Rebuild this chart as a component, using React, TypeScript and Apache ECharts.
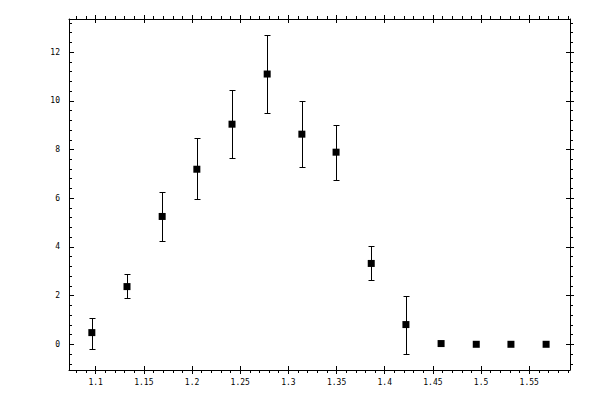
import React, { useEffect, useRef } from "react";
import * as echarts from "echarts";

// ---- data ----
const xValues = [1.096, 1.1325, 1.169, 1.205, 1.2415, 1.278, 1.314, 1.3495, 1.386, 1.422, 1.4585, 1.495, 1.531, 1.5675];
const yValues = [0.48, 2.37, 5.25, 7.19, 9.04, 11.1, 8.63, 7.89, 3.32, 0.81, 0.03, 0, 0, 0];
const errLow = [-0.18, 1.92, 4.24, 5.95, 7.64, 9.49, 7.27, 6.74, 2.66, -0.38, 0.03, 0, 0, 0];
const errHigh = [1.1, 2.87, 6.27, 8.46, 10.44, 12.7, 10.0, 9.0, 4.02, 1.99, 0.03, 0, 0, 0];

// ---- axis ranges and tick labels ----
const X_MIN = 1.0723;
const X_MAX = 1.5923;
const Y_MIN = -1.056;
const Y_MAX = 13.36;
const xMajorTicks = [1.1, 1.15, 1.2, 1.25, 1.3, 1.35, 1.4, 1.45, 1.5, 1.55];
const yMajorTicks = [0, 2, 4, 6, 8, 10, 12];

const xMinorTicks: number[] = [];
for (let k = 108; k <= 159; k++) {
  if (k % 5 !== 0) xMinorTicks.push(k / 100);
}
const yMinorTicks: number[] = [];
for (let k = -2; k <= 33; k++) {
  if (k % 5 !== 0) yMinorTicks.push(Math.round(k * 4) / 10);
}

const FONT = "DejaVu Sans Mono";

function App() {
  const ref = useRef<HTMLDivElement>(null);

  useEffect(() => {
    if (!ref.current) return;
    const chart = echarts.init(ref.current, null, { renderer: "svg" });

    const black = { color: "#000", width: 1 };
    const hiddenLine = { show: false, onZero: false };
    const shownLine = { show: true, onZero: false, lineStyle: black };

    const xAxisBase = (position: string, extra: any) => ({
      type: "value",
      position,
      min: X_MIN,
      max: X_MAX,
      splitLine: { show: false },
      axisLine: hiddenLine,
      axisLabel: { show: false },
      axisTick: { show: false },
      ...extra,
    });
    const yAxisBase = (position: string, extra: any) => ({
      type: "value",
      position,
      min: Y_MIN,
      max: Y_MAX,
      splitLine: { show: false },
      axisLine: hiddenLine,
      axisLabel: { show: false },
      axisTick: { show: false },
      ...extra,
    });

    const option: any = {
      animation: false,
      backgroundColor: "#fff",
      grid: { left: 69, right: 30, top: 19, bottom: 30, containLabel: false },
      xAxis: [
        xAxisBase("bottom", {
          axisLine: shownLine,
          axisTick: { show: true, inside: false, length: 4, customValues: xMajorTicks, lineStyle: black },
          axisLabel: {
            show: true,
            customValues: xMajorTicks,
            margin: 8,
            color: "#000",
            fontFamily: FONT,
            fontSize: 8,
            formatter: (v: number) => String(v),
          },
        }),
        xAxisBase("bottom", {
          axisTick: { show: true, inside: true, length: 4, customValues: xMajorTicks, lineStyle: black },
        }),
        xAxisBase("bottom", {
          axisTick: { show: true, inside: false, length: 3, customValues: xMinorTicks, lineStyle: black },
        }),
        xAxisBase("top", {
          axisLine: shownLine,
          axisTick: { show: true, inside: false, length: 4, customValues: xMajorTicks, lineStyle: black },
        }),
        xAxisBase("top", {
          axisTick: { show: true, inside: true, length: 4, customValues: xMajorTicks, lineStyle: black },
        }),
        xAxisBase("top", {
          axisTick: { show: true, inside: false, length: 3, customValues: xMinorTicks, lineStyle: black },
        }),
      ],
      yAxis: [
        yAxisBase("left", {
          axisLine: shownLine,
          axisTick: { show: true, inside: true, length: 5, customValues: yMajorTicks, lineStyle: black },
          axisLabel: {
            show: true,
            customValues: yMajorTicks,
            margin: 9,
            color: "#000",
            fontFamily: FONT,
            fontSize: 8,
            formatter: (v: number) => String(v),
          },
        }),
        yAxisBase("left", {
          axisTick: { show: true, inside: true, length: 3, customValues: yMinorTicks, lineStyle: black },
        }),
        yAxisBase("right", {
          axisLine: shownLine,
          axisTick: { show: true, inside: false, length: 4, customValues: yMajorTicks, lineStyle: black },
        }),
        yAxisBase("right", {
          axisTick: { show: true, inside: true, length: 4, customValues: yMajorTicks, lineStyle: black },
        }),
        yAxisBase("right", {
          axisTick: { show: true, inside: false, length: 3, customValues: yMinorTicks, lineStyle: black },
        }),
      ],
      series: [
        {
          type: "custom",
          xAxisIndex: 0,
          yAxisIndex: 0,
          data: xValues.map((x, i) => [x, errLow[i], errHigh[i]]),
          encode: { x: 0, y: [1, 2] },
          z: 2,
          renderItem: (params: any, api: any) => {
            const x = api.value(0);
            const lo = api.value(1);
            const hi = api.value(2);
            if (lo === hi) return null;
            const pLo = api.coord([x, lo]);
            const pHi = api.coord([x, hi]);
            const cx = Math.round(pLo[0]) + 0.5;
            const yLo = Math.round(pLo[1]) + 0.5;
            const yHi = Math.round(pHi[1]) + 0.5;
            const hw = 3;
            const style = { stroke: "#000", lineWidth: 1 };
            return {
              type: "group",
              children: [
                { type: "line", shape: { x1: cx, y1: yLo, x2: cx, y2: yHi }, style },
                { type: "line", shape: { x1: cx - hw, y1: yLo, x2: cx + hw, y2: yLo }, style },
                { type: "line", shape: { x1: cx - hw, y1: yHi, x2: cx + hw, y2: yHi }, style },
              ],
            };
          },
        },
        {
          type: "scatter",
          xAxisIndex: 0,
          yAxisIndex: 0,
          symbol: "rect",
          symbolSize: 7,
          itemStyle: { color: "#000", opacity: 1 },
          z: 3,
          data: xValues.map((x, i) => [x, yValues[i]]),
        },
      ],
    };

    chart.setOption(option);
    return () => chart.dispose();
  }, []);

  return (
    <div
      ref={ref}
      style={{ position: "absolute", left: 0, top: 0, width: 600, height: 400, background: "#fff" }}
    />
  );
}

export default App;
